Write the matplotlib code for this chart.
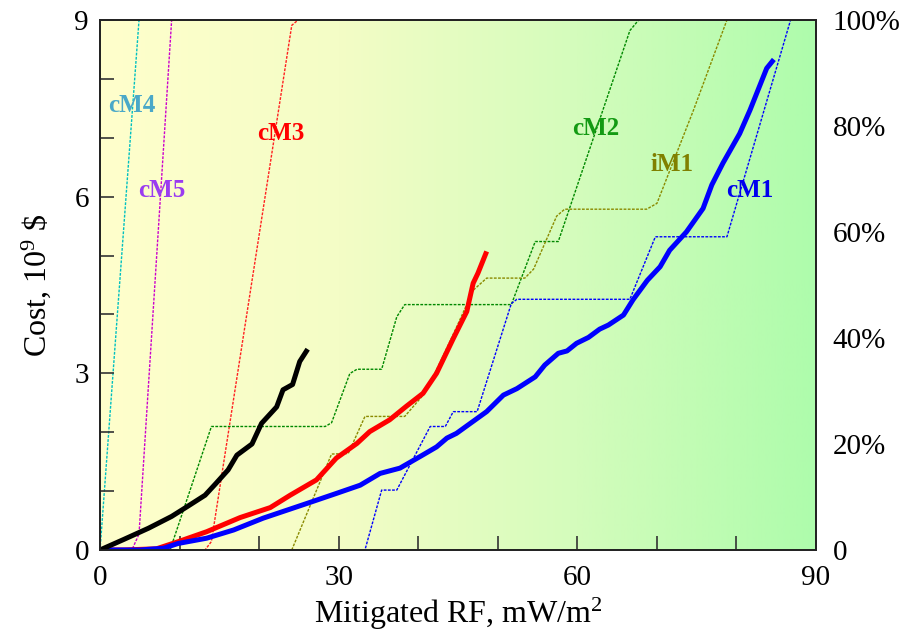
import matplotlib
matplotlib.use("Agg")
import matplotlib.pyplot as plt
import numpy as np
from matplotlib.colors import LinearSegmentedColormap

plt.rcParams['font.family'] = ['Liberation Serif', 'DejaVu Serif']
plt.rcParams['mathtext.fontset'] = 'custom'
plt.rcParams['mathtext.rm'] = 'Liberation Serif'
plt.rcParams['mathtext.it'] = 'Liberation Serif'

# cost curves (left axis, 10^9 $)
black_x = [0, 3, 6.1, 9.0, 11, 13.2, 14.5, 16.1, 17.2, 19.1, 20.3, 22.2, 23.0, 24.2, 25.1, 26.1]
black_y = [0, 0.18, 0.37, 0.57, 0.74, 0.93, 1.12, 1.36, 1.61, 1.80, 2.15, 2.43, 2.72, 2.81, 3.20, 3.41]

red_x = [0, 3, 7.1, 9.8, 13.4, 17.6, 21.4, 23.9, 27.2, 29.7, 32.3, 33.9, 36.4, 38.5,
         40.6, 42.3, 44.4, 46.1, 46.9, 47.5, 48.6]
red_y = [0, 0, 0.02, 0.14, 0.31, 0.55, 0.72, 0.93, 1.19, 1.56, 1.81, 2.01, 2.21, 2.44,
         2.66, 3.0, 3.59, 4.05, 4.53, 4.70, 5.07]

blue_x = [0, 5, 8.0, 9.8, 13.4, 16.8, 20.5, 26.0, 29.7, 32.7, 35.2, 37.7, 40.4, 42.3,
          43.6, 44.8, 48.6, 50.7, 52.4, 54.7, 55.9, 57.6, 58.7, 59.9, 61.4, 62.8, 63.9,
          65.8, 67.0, 68.8, 70.4, 71.6, 73.7, 75.8, 76.9, 78.3, 80.4, 81.7, 83.8, 84.7]
blue_y = [0, 0, 0.03, 0.11, 0.20, 0.34, 0.54, 0.79, 0.96, 1.10, 1.30, 1.39, 1.60, 1.75,
          1.90, 1.98, 2.35, 2.63, 2.74, 2.94, 3.14, 3.34, 3.38, 3.51, 3.61, 3.75, 3.82,
          3.99, 4.25, 4.58, 4.81, 5.09, 5.40, 5.80, 6.20, 6.57, 7.07, 7.47, 8.18, 8.33]

# cumulative share curves (right axis, %)
cm4_x = [0, 4.9, 90]
cm4_p = [0, 100, 100]
cm5_x = [0, 4.0, 4.9, 9.0, 90]
cm5_p = [0, 0, 3, 100, 100]
cm3_x = [0, 13.2, 14.0, 24.1, 24.9, 90]
cm3_p = [0, 0, 1.6, 99, 100, 100]
cm2_x = [0, 8.8, 14.0, 28.3, 29.1, 31.4, 32.3, 35.4, 37.3, 38.3, 51.7, 54.7, 57.6, 66.6, 67.7, 90]
cm2_p = [0, 0, 23.3, 23.3, 24, 33.3, 34.1, 34.1, 44, 46.3, 46.3, 58.2, 58.2, 98, 100, 100]
im1_x = [0, 24.1, 29.1, 31.2, 33.3, 38.3, 40.6, 42.3, 44.8, 46.9, 48.6, 53.4, 54.5, 57.4,
         58.4, 68.7, 70.0, 74.6, 78.8, 90]
im1_p = [0, 0, 18.1, 18.2, 25.2, 25.2, 29.2, 34, 42, 49, 51.3, 51.3, 53, 63,
         64.3, 64.3, 65.4, 83, 100, 100]
cm1_x = [0, 33.3, 35.4, 37.3, 41.5, 43.4, 44.4, 47.4, 51.7, 52.4, 66.6, 69.8, 78.8, 86.8, 90]
cm1_p = [0, 0, 11.3, 11.3, 23.3, 23.3, 26.1, 26.1, 46.5, 47.3, 47.3, 59.1, 59.1, 100, 100]

labels = ['cM4', 'cM5', 'cM3', 'cM2', 'iM1', 'cM1']
label_x = [4.0, 7.75, 22.7, 62.3, 71.9, 81.7]
label_y = [7.55, 6.11, 7.08, 7.16, 6.55, 6.10]
label_colors = ['#4aa8c8', '#9a3cf0', '#ff0000', '#139a13', '#808000', '#0000ee']

fig = plt.figure(figsize=(9.07, 6.35), dpi=100)
ax = fig.add_axes([0.1103, 0.1339, 0.7894, 0.8346])
ax2 = ax.twinx()

# background gradient yellow -> green
cmap = LinearSegmentedColormap.from_list('bg', ['#ffffcc', '#f4fdc6', '#d4fcbc', '#aefcac'])
grad = np.linspace(0, 1, 256).reshape(1, -1)
ax2.imshow(grad, extent=[0, 90, 0, 100], aspect='auto', cmap=cmap, zorder=0)

dot = (0, (2, 1))
ax2.plot(cm4_x, cm4_p, color='#00c0c0', lw=1.0, ls=dot)
ax2.plot(cm5_x, cm5_p, color='#cc00cc', lw=1.0, ls=dot)
ax2.plot(cm3_x, cm3_p, color='#ff2020', lw=1.0, ls=dot)
ax2.plot(cm2_x, cm2_p, color='#008800', lw=1.0, ls=dot)
ax2.plot(im1_x, im1_p, color='#8a8a00', lw=1.0, ls=dot)
ax2.plot(cm1_x, cm1_p, color='#0000ff', lw=1.0, ls=dot)

ax.set_zorder(ax2.get_zorder() + 1)
ax.patch.set_visible(False)

ax.plot(red_x, red_y, color='#ff0000', lw=3.6, solid_capstyle='butt')
ax.plot(blue_x, blue_y, color='#0000ff', lw=3.6, solid_capstyle='butt')
ax.plot(black_x, black_y, color='black', lw=3.6, solid_capstyle='butt')

for name, lx, ly, c in zip(labels, label_x, label_y, label_colors):
    ax.text(lx, ly, name, color=c, fontsize=18, fontweight='bold', ha='center', va='center')

ax.set_xlim(0, 90)
ax.set_ylim(0, 9)
ax2.set_ylim(0, 100)

ax.set_xticks([0, 30, 60, 90])
ax.set_xticks(np.arange(0, 91, 10), minor=True)
ax.set_yticks([0, 3, 6, 9])
ax.set_yticks(np.arange(0, 10, 1), minor=True)
ax.tick_params(which='both', direction='in', length=10, width=1.2, color='#333333',
               labelsize=21, top=False, right=False)
ax.tick_params(axis='x', pad=11)
ax.tick_params(axis='y', pad=8)

ax2.set_yticks([0, 20, 40, 60, 80, 100])
ax2.set_yticklabels(['0', '20%', '40%', '60%', '80%', '100%'])
ax2.tick_params(length=0, labelsize=21, pad=12)

for a in (ax, ax2):
    for s in a.spines.values():
        s.set_linewidth(1.3)
        s.set_color('#222222')

ax.set_xlabel('Mitigated RF, mW/m$^2$', fontsize=23, labelpad=3)
ax.set_ylabel('Cost, 10$^9$ \\$', fontsize=23, labelpad=15)

fig.savefig('out.png', dpi=100)
